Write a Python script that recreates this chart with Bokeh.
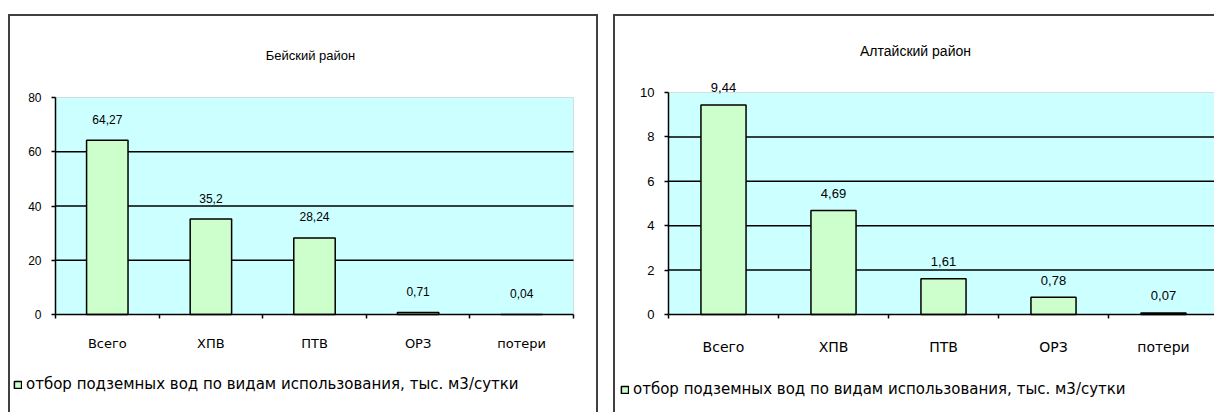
from bokeh.plotting import figure
from bokeh.models import (Range1d, LinearAxis, FixedTicker, LabelSet, CustomJSTickFormatter,
                          ColumnDataSource, Label, Legend, LegendItem, BoxAnnotation)
from bokeh.core.properties import value
from bokeh.layouts import row
from bokeh.embed import file_html
from bokeh.resources import INLINE

# ---- data ----
categories = ["Всего", "ХПВ", "ПТВ", "ОРЗ", "потери"]
beisky_values = [64.27, 35.2, 28.24, 0.71, 0.04]
altaisky_values = [9.44, 4.69, 1.61, 0.78, 0.07]
beisky_title = "Бейский район"
altaisky_title = "Алтайский район"
legend_text = "отбор подземных вод по видам использования, тыс. м3/сутки"
beisky_y_ticks = [0, 20, 40, 60, 80]
altaisky_y_ticks = [0, 2, 4, 6, 8, 10]

FONT = "Liberation Sans"
WIDE_FONT = "DejaVu Sans"
BG = "#CCFFFF"
BAR = "#CCFFCC"
BORDER = "2px solid #404040"
LW = 1.5


def fmt(v):
    return f"{v:g}".replace(".", ",")


def make_panel(title, values, y_ticks, geom, font_px, cat_px, legend_px, bar_width,
               label_offset, title_xy, legend_xy, cat_standoff, margin, styles):
    """geom: page-pixel geometry of the panel: canvas left/top/width/height,
    plot area left, width of one category slot, page y of zero and of the top tick."""
    n = len(categories)
    cl, ct, cw, ch, plot_left, slot_px, zero_y, top_y = geom
    ppu = (zero_y - top_y) / y_ticks[-1]      # pixels per value unit
    x_start = (cl - plot_left) / slot_px
    x_end = (cl + cw - plot_left) / slot_px
    y_start = -(ct + ch - zero_y) / ppu
    y_end = (zero_y - ct) / ppu
    slots = [i + 0.5 for i in range(n)]

    p = figure(width=cw, height=ch,
               x_range=Range1d(x_start, x_end), y_range=Range1d(y_start, y_end),
               output_backend="svg", toolbar_location=None,
               x_axis_location=None, y_axis_location=None,
               min_border=0, min_border_left=0, min_border_right=0,
               min_border_top=0, min_border_bottom=0,
               margin=margin, styles=styles)
    p.background_fill_color = "white"
    p.border_fill_color = "white"
    p.outline_line_color = None
    p.grid.visible = False

    # plot area
    area = BoxAnnotation(left=0, right=n, bottom=y_ticks[0], top=y_ticks[-1],
                         fill_color=BG, fill_alpha=1.0, line_color="#999999",
                         line_width=1, level="underlay")
    p.add_layout(area)

    # horizontal gridlines (inside plot area only)
    grid_y = y_ticks[1:-1]
    p.segment(x0=[0] * len(grid_y), x1=[n] * len(grid_y), y0=grid_y, y1=grid_y,
              line_color="black", line_width=LW)

    src = ColumnDataSource(dict(x=slots, cat=categories, val=values,
                                txt=[fmt(v) for v in values]))
    bars = p.vbar(x="x", top="val", width=bar_width, source=src,
                  fill_color=BAR, line_color="black", line_width=LW)

    # y axis
    ya = LinearAxis(fixed_location=0, ticker=FixedTicker(ticks=y_ticks),
                    bounds=(y_ticks[0], y_ticks[-1]),
                    axis_line_color="black", axis_line_width=LW,
                    major_tick_line_color="black", major_tick_line_width=LW,
                    major_tick_in=0, major_tick_out=4, minor_tick_line_color=None,
                    major_label_text_font=FONT, major_label_text_font_size=f"{font_px}px",
                    major_label_text_color="black", major_label_standoff=10)
    p.add_layout(ya, "left")

    # x axis: ticks at category boundaries (no labels)
    tick_axis = LinearAxis(fixed_location=0, ticker=FixedTicker(ticks=list(range(n + 1))),
                           bounds=(0, n),
                           formatter=CustomJSTickFormatter(code="return ''"),
                           major_label_standoff=0,
                           major_tick_in=0, major_tick_out=4,
                           minor_tick_line_color=None,
                           axis_line_color="black", axis_line_width=LW,
                           major_tick_line_color="black", major_tick_line_width=LW)
    p.add_layout(tick_axis, "below")
    # category labels at category centres
    label_axis = LinearAxis(fixed_location=0, ticker=FixedTicker(ticks=slots),
                            formatter=CustomJSTickFormatter(args=dict(cats=categories),
                                                            code="return cats[Math.floor(tick)]"),
                            axis_line_color=None, major_tick_line_color=None,
                            minor_tick_line_color=None,
                            major_label_text_font=WIDE_FONT,
                            major_label_text_font_size=f"{cat_px}px",
                            major_label_text_color="black",
                            major_label_standoff=cat_standoff)
    p.add_layout(label_axis, "below")

    # value labels
    labels = LabelSet(x="x", y="val", text="txt", source=src, y_offset=label_offset,
                      text_align="center", text_baseline="middle",
                      text_font=value(FONT), text_font_size=value(f"{font_px}px"),
                      text_color="black")
    p.add_layout(labels)

    # title
    p.add_layout(Label(x=title_xy[0], y=title_xy[1], x_units="screen", y_units="screen",
                       text=title, text_align="center", text_baseline="middle",
                       text_font=FONT, text_font_size=f"{font_px + 1}px", text_color="black"))

    # legend
    legend = Legend(items=[LegendItem(label=legend_text, renderers=[bars])],
                    location=legend_xy, orientation="horizontal",
                    glyph_width=9, glyph_height=9, label_height=12, label_standoff=4,
                    padding=0, margin=0, spacing=0,
                    border_line_color=None, background_fill_alpha=0,
                    label_text_font=WIDE_FONT, label_text_font_size=f"{legend_px}px",
                    label_text_color="black")
    p.add_layout(legend)
    return p


# left panel: host 8..598, canvas starts 2px inside the border
left = make_panel(beisky_title, beisky_values, beisky_y_ticks,
                  geom=(10, 16, 590, 398, 55, 103.6, 314, 97),
                  font_px=12, cat_px=13, legend_px=15, bar_width=0.4, label_offset=21,
                  title_xy=(300, 359), legend_xy=(3, 21), cat_standoff=15,
                  margin=(14, 0, 0, 8),
                  styles={"border-top": BORDER, "border-left": BORDER, "border-right": BORDER})
# right panel: host 613..1214
right = make_panel(altaisky_title, altaisky_values, altaisky_y_ticks,
                   geom=(615, 16, 601, 398, 668, 110, 314, 92),
                   font_px=13, cat_px=14, legend_px=15, bar_width=0.41, label_offset=17,
                   title_xy=(300, 364), legend_xy=(5, 16), cat_standoff=18,
                   margin=(14, 0, 0, 15),
                   styles={"border-top": BORDER, "border-left": BORDER})

layout = row(left, right, spacing=0)
open("out.html", "w").write(file_html(layout, INLINE))
